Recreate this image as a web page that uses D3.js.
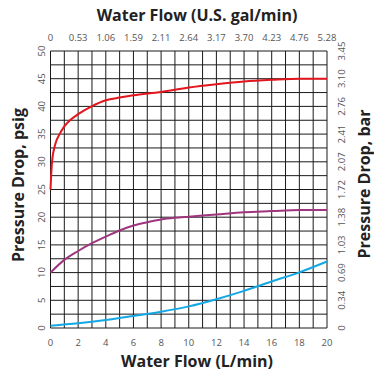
<!DOCTYPE html>
<html>
<head>
<meta charset="utf-8">
<script src="https://cdn.jsdelivr.net/npm/d3@7"></script>
<style>
  html, body { margin: 0; padding: 0; background: #fff; }
  svg { display: block; }
</style>
</head>
<body>
<svg id="chart" width="374" height="374"></svg>
<script>
// Flow in L/min along the bottom; pressure drop in psig on the left.
const flowLpm = [0, 2, 4, 6, 8, 10, 12, 14, 16, 18, 20];
const flowGpmLabels = ["0", "0.53", "1.06", "1.59", "2.11", "2.64", "3.17", "3.70", "4.23", "4.76", "5.28"];
const psigTicks = [0, 5, 10, 15, 20, 25, 30, 35, 40, 45, 50];
const barLabels = ["0", "0.34", "0.69", "1.03", "1.38", "1.72", "2.07", "2.41", "2.76", "3.10", "3.45"];

// Curve samples (flow L/min, pressure drop psig)
const redFlow = [0, 0.11, 0.35, 0.66, 1.0, 1.41, 2.0, 2.98, 4, 5, 6, 8, 10, 12, 14, 16, 18, 20];
const redPsig = [25, 30, 33.2, 35, 36.4, 37.5, 38.6, 40.0, 41.1, 41.6, 42.0, 42.6, 43.4, 44.0, 44.5, 44.8, 45.0, 45.0];

const purpleFlow = [0, 1, 2, 3, 4, 5, 6, 7, 8, 9, 10, 12, 14, 16, 18, 20];
const purplePsig = [10, 12.3, 13.9, 15.3, 16.5, 17.6, 18.5, 19.1, 19.6, 19.9, 20.1, 20.5, 20.9, 21.1, 21.3, 21.3];

const blueFlow = [0, 2, 4, 6, 8, 10, 12, 14, 16, 18, 20];
const bluePsig = [0.4, 0.85, 1.44, 2.17, 2.94, 3.9, 5.2, 6.7, 8.4, 10.05, 12.0];

const svg = d3.select("#chart");
const plotLeft = 50.5, plotRight = 327, plotTop = 51, plotBottom = 328;

const x = d3.scaleLinear().domain([0, 20]).range([plotLeft, plotRight]);
const y = d3.scaleLinear().domain([0, 50]).range([plotBottom, plotTop]);

const font = "'Open Sans', 'Noto Sans', sans-serif";
const tickColor = "#555";

// Grid: one line per L/min and per 2.5 psig
const grid = svg.append("g").attr("stroke", "#1a1a1a").attr("stroke-width", 1);
d3.range(0, 21, 1).forEach(v => {
  grid.append("line").attr("x1", x(v)).attr("x2", x(v)).attr("y1", y(0)).attr("y2", y(50));
});
d3.range(0, 50.01, 2.5).forEach(v => {
  grid.append("line").attr("x1", x(0)).attr("x2", x(20)).attr("y1", y(v)).attr("y2", y(v));
});

// Curves
const line = d3.line().x(d => x(d[0])).y(d => y(d[1])).curve(d3.curveMonotoneX);
const series = [
  { fx: blueFlow, py: bluePsig, color: "#13a8e4" },
  { fx: purpleFlow, py: purplePsig, color: "#a0357f" },
  { fx: redFlow, py: redPsig, color: "#e3161e" }
];
series.forEach(s => {
  svg.append("path")
    .datum(d3.zip(s.fx, s.py))
    .attr("d", line)
    .attr("fill", "none")
    .attr("stroke", s.color)
    .attr("stroke-width", 2);
});

// Bottom axis labels (L/min)
svg.append("g").selectAll("text").data(flowLpm).join("text")
  .attr("x", d => x(d)).attr("y", 346)
  .attr("text-anchor", "middle")
  .attr("font-family", font).attr("font-size", 9.5).attr("fill", tickColor)
  .text(d => d);

// Top axis labels (U.S. gal/min)
svg.append("g").selectAll("text").data(flowLpm).join("text")
  .attr("x", d => x(d)).attr("y", 41)
  .attr("text-anchor", "middle")
  .attr("font-family", font).attr("font-size", 9.5).attr("fill", tickColor)
  .text((d, i) => flowGpmLabels[i]);

// Left axis labels (psig), rotated
svg.append("g").selectAll("text").data(psigTicks).join("text")
  .attr("transform", d => `translate(45,${y(d)}) rotate(-90)`)
  .attr("text-anchor", "middle")
  .attr("font-family", font).attr("font-size", 9.5).attr("fill", tickColor)
  .text(d => d);

// Right axis labels (bar), rotated
svg.append("g").selectAll("text").data(psigTicks).join("text")
  .attr("transform", d => `translate(345,${y(d)}) rotate(-90)`)
  .attr("text-anchor", "middle")
  .attr("font-family", font).attr("font-size", 9.5).attr("fill", tickColor)
  .text((d, i) => barLabels[i]);

// Axis titles
const titleStyle = sel => sel
  .attr("font-family", font).attr("font-size", 16).attr("font-weight", "bold")
  .attr("fill", "#222").attr("text-anchor", "middle");

svg.append("text").call(titleStyle)
  .attr("x", 197).attr("y", 21).text("Water Flow (U.S. gal/min)");
svg.append("text").call(titleStyle)
  .attr("x", 197).attr("y", 367).text("Water Flow (L/min)");
svg.append("text").call(titleStyle)
  .attr("transform", "translate(24,185) rotate(-90)").text("Pressure Drop, psig");
svg.append("text").call(titleStyle)
  .attr("transform", "translate(370,184) rotate(-90)").text("Pressure Drop, bar");
</script>
</body>
</html>
